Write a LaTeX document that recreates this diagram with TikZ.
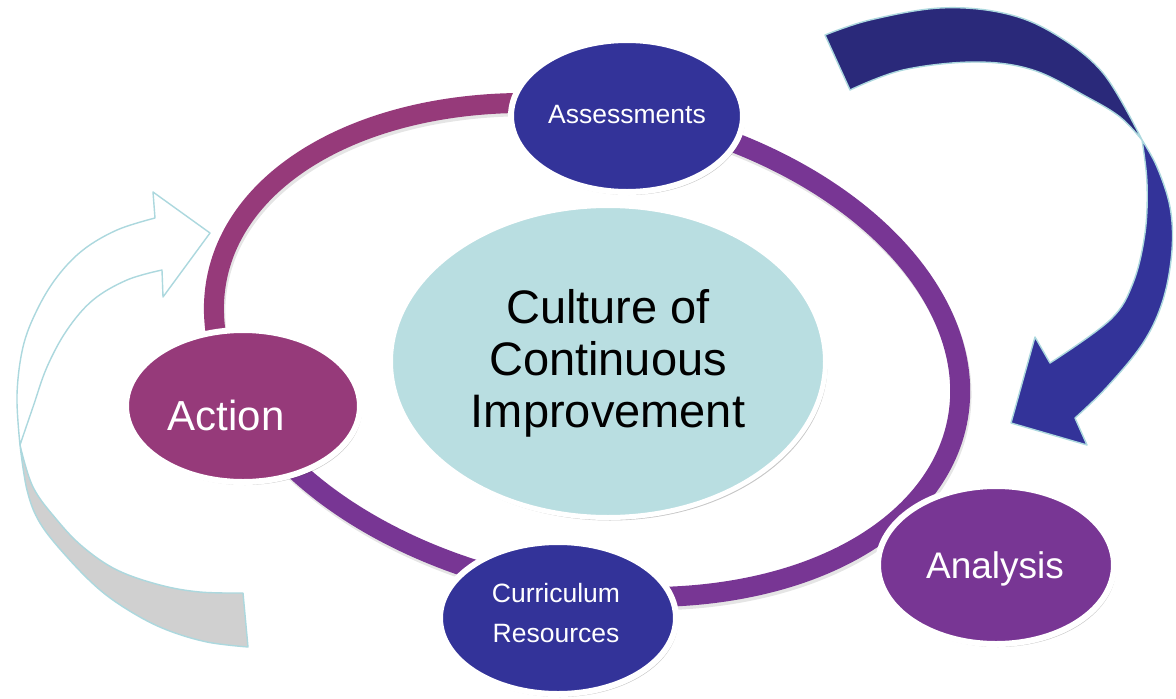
\documentclass[tikz,border=0pt]{standalone}
\usepackage{fontspec}
\setmainfont{Liberation Sans}
\usetikzlibrary{shapes.geometric,shadows}
\definecolor{ringM}{RGB}{150,58,122}
\definecolor{ringP}{RGB}{120,54,148}
\definecolor{navyC}{RGB}{51,51,153}
\definecolor{navyD}{RGB}{42,41,122}
\definecolor{coreC}{RGB}{185,222,225}
\definecolor{edgeC}{RGB}{172,216,222}
\definecolor{grayC}{RGB}{208,208,208}
\tikzset{
  arrowedge/.style={draw=edgeC, line width=1.4pt, line join=round},
  ringline/.style={line width=20pt, line cap=butt},
  softshadow/.style={drop shadow={shadow xshift=2pt, shadow yshift=-3pt, opacity=0.22, fill=black}},
  bubble/.style={ellipse, draw=white, line width=6pt, inner sep=0pt, softshadow},
  lbl/.style={text=white, anchor=base, inner sep=0pt},
}
\begin{document}
\begin{tikzpicture}[x=1pt,y=-1pt]
\fill[white] (0,0) rectangle (1176,699);
\useasboundingbox (0,0) rectangle (1176,699);

% top-right arrow: upper dark band
\draw[arrowedge, fill=navyD]
  plot[smooth, tension=0.6] coordinates {(825,35) (870,20) (940,8) (1003,13) (1053,33) (1103,73) (1142,140)}
  -- plot[smooth, tension=0.6] coordinates {(1142,140) (1120,117) (1087,97) (1033,70) (975,62) (903,70) (850,90)}
  -- cycle;
% top-right arrow: lower band with head
\draw[arrowedge, fill=navyC]
  plot[smooth, tension=0.6] coordinates {(1142,140) (1147,183) (1145,233) (1133,283) (1110,320) (1050,363)}
  -- (1035,337) -- (1011,423) -- (1087,445) -- (1075,418)
  -- plot[smooth, tension=0.6] coordinates {(1075,418) (1107,387) (1143,343) (1163,300) (1172,250) (1170,207) (1157,167) (1142,140)}
  -- cycle;

% left arrow: lower gray band
\draw[arrowedge, fill=grayC]
  plot[smooth, tension=0.6] coordinates {(20,445) (27,490) (40,523) (67,557) (100,590) (133,613) (167,630) (207,642) (248,647)}
  -- (243,593)
  -- plot[smooth, tension=0.6] coordinates {(243,593) (200,592) (160,585) (117,570) (83,547) (57,520) (33,487) (20,445)}
  -- cycle;
% left arrow: upper white band with head
\draw[arrowedge, fill=white]
  plot[smooth, tension=0.6] coordinates {(20,445) (17,395) (23,347) (37,310) (57,277) (83,250) (117,230) (155,218)}
  -- (153,192) -- (210,233) -- (163,297) -- (162,270)
  -- plot[smooth, tension=0.6] coordinates {(162,270) (127,280) (93,300) (67,330) (47,367) (33,407) (20,445)}
  -- cycle;

% ring
\begin{scope}[shift={(587,350)}, rotate=-10.75]
  \draw[ringline, draw=black, opacity=0.10, shift={(2pt,-3pt)}] (0,0) ellipse[x radius=377pt, y radius=241pt];
  \draw[ringline, draw=ringM] (91:377pt and 241pt) arc[start angle=91, end angle=212, x radius=377pt, y radius=241pt];
  \draw[ringline, draw=ringP] (208:377pt and 241pt) arc[start angle=208, end angle=453, x radius=377pt, y radius=241pt];
\end{scope}

% center
\node[ellipse, fill=coreC, draw=white, line width=5pt, minimum width=435pt, minimum height=312pt, inner sep=0pt, softshadow] (core) at (608,361.5) {};
\node[anchor=base, align=center, inner sep=0pt, font=\fontsize{47}{52}\selectfont] (coretext) at (608,427) {Culture of\\Continuous\\Improvement};

% satellites
\node[bubble, fill=navyC, minimum width=232pt, minimum height=152pt] (assess) at (627,116) {};
\node[lbl, font=\fontsize{26.5}{32}\selectfont] (assesstext) at (627,123) {Assessments};

\node[bubble, fill=ringM, minimum width=234pt, minimum height=152pt] (action) at (243,406) {};
\node[lbl, font=\fontsize{42}{48}\selectfont] (actiontext) at (226,430) {Action};

\node[bubble, fill=navyC, minimum width=236pt, minimum height=152pt] (curr) at (558,618) {};
\node[lbl, align=center, font=\fontsize{26.5}{40}\selectfont] (currtext) at (556,642) {Curriculum\\Resources};

\node[bubble, fill=ringP, minimum width=236pt, minimum height=158pt] (analysis) at (996,565) {};
\node[lbl, font=\fontsize{37}{44}\selectfont] (analysistext) at (995,578) {Analysis};
\end{tikzpicture}
\end{document}
